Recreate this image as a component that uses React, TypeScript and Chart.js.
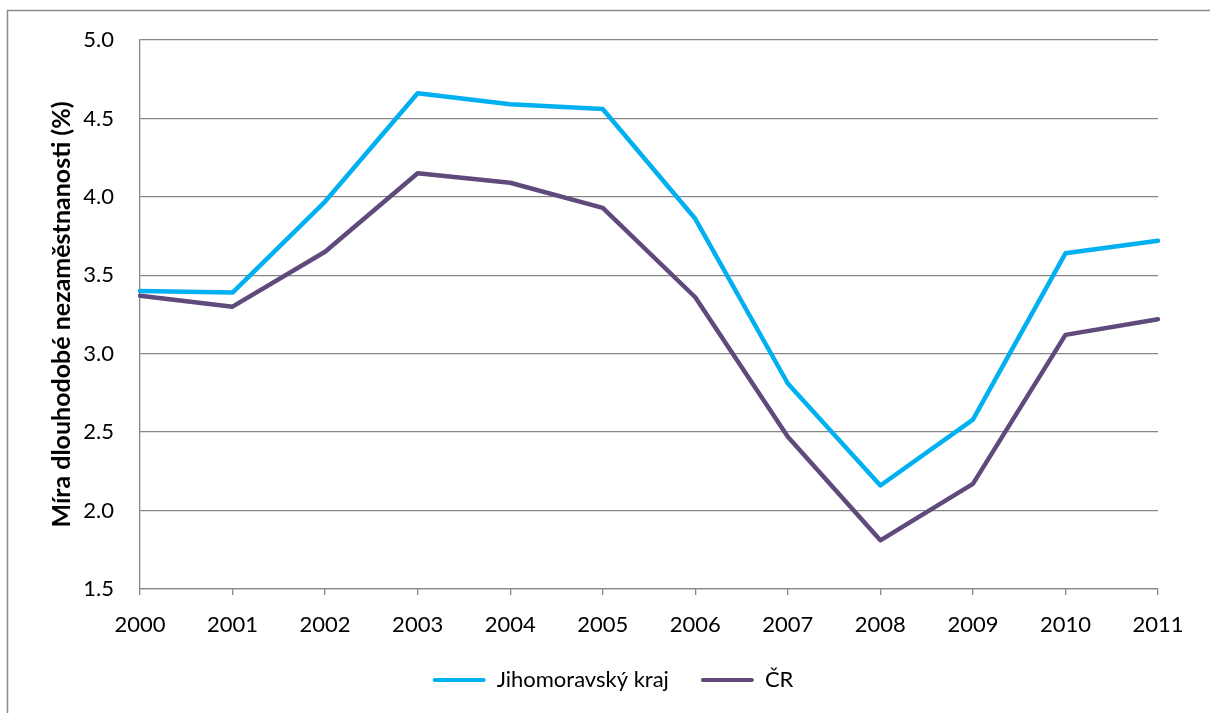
import React, { useEffect, useRef } from "react";
import { Chart, registerables } from "chart.js";

Chart.register(...registerables);

const years = ["2000", "2001", "2002", "2003", "2004", "2005", "2006", "2007", "2008", "2009", "2010", "2011"];
const jihomoravsky = [3.40, 3.39, 3.97, 4.66, 4.59, 4.56, 3.86, 2.81, 2.16, 2.58, 3.64, 3.72];
const cr = [3.37, 3.30, 3.65, 4.15, 4.09, 3.93, 3.36, 2.47, 1.81, 2.17, 3.12, 3.22];
const seriesNames = ["Jihomoravský kraj", "ČR"];
const yTitle = "Míra dlouhodobé nezaměstnanosti (%)";

const FONT = "Lato, 'Open Sans', sans-serif";

const framePlugin = {
  id: "frame",
  beforeDraw(chart: any) {
    const ctx = chart.ctx;
    ctx.save();
    ctx.strokeStyle = "#8c8c8c";
    ctx.lineWidth = 1.5;
    ctx.beginPath();
    ctx.moveTo(7.5, 713);
    ctx.lineTo(7.5, 10.5);
    ctx.lineTo(1210, 10.5);
    ctx.stroke();
    ctx.restore();
  },
};

export default function App() {
  const ref = useRef<HTMLCanvasElement | null>(null);
  useEffect(() => {
    if (!ref.current) return;
    const chart = new Chart(ref.current, {
      type: "line",
      data: {
        labels: years,
        datasets: [
          {
            label: seriesNames[0],
            data: jihomoravsky,
            borderColor: "#00B0F0",
            backgroundColor: "#00B0F0",
            borderWidth: 4.5,
            pointRadius: 0,
            tension: 0,
            borderJoinStyle: "round",
            borderCapStyle: "round",
          },
          {
            label: seriesNames[1],
            data: cr,
            borderColor: "#604A7B",
            backgroundColor: "#604A7B",
            borderWidth: 4.5,
            pointRadius: 0,
            tension: 0,
            borderJoinStyle: "round",
            borderCapStyle: "round",
          },
        ],
      },
      options: {
        animation: false,
        responsive: true,
        maintainAspectRatio: false,
        devicePixelRatio: 1,
        layout: { padding: { left: 16, right: 0, top: 40, bottom: 12 } },
        plugins: {
          tooltip: { enabled: false },
          legend: {
            position: "bottom",
            labels: {
              boxWidth: 53,
              boxHeight: 4,
              padding: 32,
              color: "#000",
              font: { family: FONT, size: 22 },
              useBorderRadius: true,
              borderRadius: 2,
              generateLabels: (chart: any) =>
                chart.data.datasets.map((ds: any, i: number) => ({
                  text: ds.label,
                  fillStyle: ds.borderColor,
                  strokeStyle: ds.borderColor,
                  lineWidth: 0,
                  hidden: false,
                  datasetIndex: i,
                  borderRadius: 2,
                })),
            },
          },
        },
        scales: {
          x: {
            offset: false,
            grid: {
              drawOnChartArea: false,
              drawTicks: true,
              tickLength: 6,
              color: "#868686",
              lineWidth: 1.3,
            },
            border: { color: "#868686", width: 1.3 },
            ticks: {
              color: "#000",
              font: { family: FONT, size: 22 },
              padding: 17,
              maxRotation: 0,
              autoSkip: false,
            },
            afterFit: (s: any) => {
              s.height = 48;
            },
          },
          y: {
            min: 1.5,
            max: 5.0,
            grid: { color: "#868686", lineWidth: 1.3, drawTicks: false },
            border: { color: "#868686", width: 1.3 },
            ticks: {
              stepSize: 0.5,
              color: "#000",
              font: { family: FONT, size: 22 },
              padding: 26,
              callback: (v: any) => Number(v).toFixed(1),
            },
            title: {
              display: true,
              text: yTitle,
              color: "#000",
              font: { family: FONT, size: 25, weight: "bold" },
              padding: { top: 31, bottom: 0 },
            },
            afterFit: (s: any) => {
              s.width = 124;
            },
          },
          yRight: {
            position: "right",
            display: true,
            grid: { display: false, drawTicks: false },
            border: { display: false },
            ticks: { display: false },
            afterFit: (s: any) => {
              s.width = 52;
            },
          },
        },
      },
      plugins: [framePlugin],
    } as any);
    return () => chart.destroy();
  }, []);
  return (
    <div style={{ position: "fixed", left: 0, top: 0, width: 1210, height: 713, background: "#fff" }}>
      <canvas ref={ref} />
    </div>
  );
}
